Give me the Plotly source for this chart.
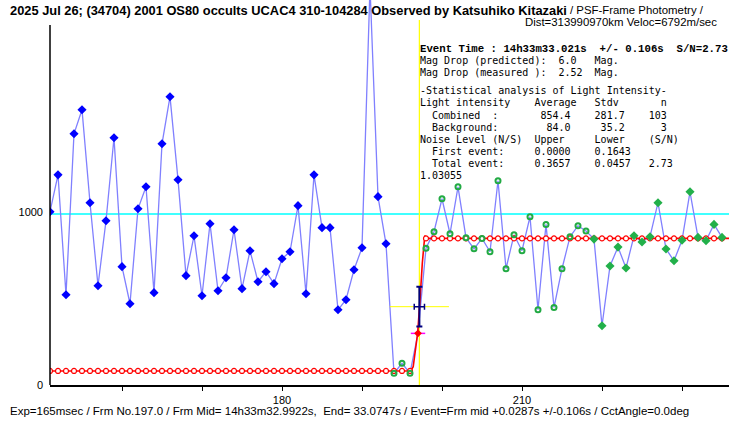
import plotly.graph_objects as go

# frame numbers and light intensity
frames = list(range(151, 236))
flux = [1000, 1213, 521, 1450, 1589, 1052, 573, 948, 1427, 683,
        469, 1017, 1144, 533, 1392, 1664, 1185, 631, 861, 515,
        931, 544, 619, 896, 556, 775, 596, 654, 585, 729,
        769, 1035, 527, 1213, 908, 908, 434, 492, 665, 792,
        2300, 1087, 815, 68, 125, 68, 298, 789, 885, 1075,
        873, 1144, 850, 786, 846, 769, 1179, 671, 867, 775,
        971, 434, 927, 448, 671, 856, 919, 889, 842, 342,
        687, 796, 675, 861, 825, 856, 1052, 785, 717, 835,
        1115, 852, 833, 927, 852]

n_before = 43      # points drawn as blue diamonds
event_idx = 46     # frame 197, drawn red
fit_end = 68       # open green circles up to here

# fitted step model
model_low = 81
model_high = 846
model_frames = [151, 196.1, 196.4, 196.96, 197.25, 197.54, 197.85, 198.1, 236]
model_vals = [81, 81, 106, 300, 490, 704, 862, 846, 846]

# event timing
evt_frame = 197.17
evt_err = 0.64
half_level = 452
half_err = 115
half_span = 3.7
ref_level = 987

x_ticks = [160, 170, 180, 190, 200, 210, 220, 230]
x_labels = ["", "", "180", "", "", "210", "", ""]

model_pts_x = [f for f in frames if f != 197]
model_pts_y = [model_low if f < 197 else model_high for f in model_pts_x]

green_open_x = frames[n_before:event_idx] + frames[event_idx + 1:fit_end]
green_open_y = flux[n_before:event_idx] + flux[event_idx + 1:fit_end]


def px(x):
    return (x - 50) / 679


def py(y):
    return (385 - y) / 385


fig = go.Figure()
fig.add_trace(go.Scatter(x=frames, y=flux, mode="lines",
                         line=dict(color="#8080ff", width=1.3)))
fig.add_trace(go.Scatter(x=model_frames, y=model_vals, mode="lines",
                         line=dict(color="#ff0000", width=1.6)))
fig.add_trace(go.Scatter(x=model_pts_x, y=model_pts_y, mode="markers",
                         marker=dict(symbol="circle", size=5, color="white",
                                     line=dict(color="#ff0000", width=1.2))))
fig.add_trace(go.Scatter(x=frames[:n_before], y=flux[:n_before], mode="markers",
                         marker=dict(symbol="diamond", size=7, color="#0000ff")))
fig.add_trace(go.Scatter(x=green_open_x, y=green_open_y, mode="markers",
                         marker=dict(symbol="circle-open", size=5, color="#22aa44",
                                     line=dict(width=2))))
fig.add_trace(go.Scatter(x=frames[fit_end:], y=flux[fit_end:], mode="markers",
                         marker=dict(symbol="diamond", size=7, color="#22b04a")))
fig.add_trace(go.Scatter(x=[frames[event_idx]], y=[flux[event_idx]], mode="markers",
                         marker=dict(symbol="diamond", size=6, color="#ff0000"),
                         error_x=dict(type="constant", value=0.9, color="#ff00ff",
                                      thickness=1.5, width=0)))
fig.add_trace(go.Scatter(x=[evt_frame - half_span, evt_frame + half_span],
                         y=[half_level, half_level], mode="lines",
                         line=dict(color="#ffff00", width=1)))
fig.add_trace(go.Scatter(x=[evt_frame], y=[half_level], mode="markers",
                         marker=dict(size=1, color="#000080"),
                         error_x=dict(type="constant", value=evt_err, color="#000080",
                                      thickness=1.5, width=3),
                         error_y=dict(type="constant", value=half_err, color="#000080",
                                      thickness=2, width=3)))

fig.add_shape(type="line", xref="paper", x0=0, x1=1, y0=ref_level, y1=ref_level,
              line=dict(color="#00ffff", width=1.5), layer="below")
fig.add_shape(type="line", x0=evt_frame, x1=evt_frame, y0=0, y1=2106,
              line=dict(color="#ffff00", width=1.2), layer="below")
fig.add_shape(type="line", xref="paper", x0=0, x1=0, y0=0, y1=2077,
              line=dict(color="black", width=1.5))

title_font = dict(family="Liberation Sans", size=12.85, color="black")
sub_font = dict(family="Liberation Sans", size=11.4, color="black")
mono = dict(family="DejaVu Sans Mono", size=10, color="black")

annotations = [
    dict(x=px(8), y=py(10), xanchor="left", yanchor="middle", font=title_font,
         text="<b>2025 Jul 26; (34704) 2001 OS80 occults UCAC4 310-104284 "
              "Observed by Katsuhiko Kitazaki</b>"),
    dict(x=px(568), y=py(10), xanchor="left", yanchor="middle", font=sub_font,
         text="/ PSF-Frame Photometry /"),
    dict(x=px(719), y=py(22), xanchor="right", yanchor="middle", font=sub_font,
         text="Dist=313990970km Veloc=6792m/sec"),
    dict(x=px(8), y=py(411), xanchor="left", yanchor="middle",
         font=dict(family="Liberation Sans", size=11.5, color="black"),
         text="Exp=165msec / Frm No.197.0 / Frm Mid= 14h33m32.9922s,  End= 33.0747s"
              " / Event=Frm mid +0.0287s +/-0.106s / CctAngle=0.0deg"),
]

stats_lines = [
    (49, "Event Time : 14h33m33.021s  +/- 0.106s  S/N=2.73", True),
    (60.7, "Mag Drop (predicted):  6.0   Mag.", False),
    (72.7, "Mag Drop (measured ):  2.52  Mag.", False),
    (90.3, "-Statistical analysis of Light Intensity-", False),
    (103, "Light intensity    Average   Stdv       n", False),
    (115, "  Combined  :       854.4    281.7    103", False),
    (127, "  Background:        84.0     35.2      3", False),
    (139, "Noise Level (N/S)  Upper     Lower    (S/N)", False),
    (151, "  First event:     0.0000    0.1643", False),
    (163, "  Total event:     0.3657    0.0457   2.73", False),
    (175, "1.03055", False),
]
for yy, txt, bold in stats_lines:
    txt = txt.replace(" ", "\u00a0")
    f = dict(mono)
    if bold:
        txt = "<b>" + txt + "</b>"
        f["family"] = "Liberation Mono"
        f["size"] = 10.7
    annotations.append(dict(x=px(418), y=py(yy), xanchor="left", yanchor="middle",
                            text=txt, font=f))

for a in annotations:
    a.update(xref="paper", yref="paper", showarrow=False)

fig.update_layout(
    width=740,
    height=425,
    margin=dict(l=50, r=11, t=0, b=40),
    paper_bgcolor="white",
    plot_bgcolor="white",
    showlegend=False,
    annotations=annotations,
    xaxis=dict(range=[151, 235.875], showgrid=False, zeroline=False,
               showline=True, linecolor="black", linewidth=1.5,
               ticks="outside", ticklen=4, tickcolor="black",
               tickvals=x_ticks, ticktext=x_labels,
               tickfont=dict(family="Liberation Sans", size=11, color="black")),
    yaxis=dict(range=[0, 2222], showgrid=False, zeroline=False, showline=False,
               tickvals=[0, 1000], ticktext=["0", "1000"], ticks="",
               ticklabelstandoff=6,
               tickfont=dict(family="Liberation Sans", size=11, color="black")),
)

# no modebar over the title; page body has an 8px default margin, drop it
fig.write_html("out.html", config={"displayModeBar": False},
               post_script="document.body.style.margin='0';")
